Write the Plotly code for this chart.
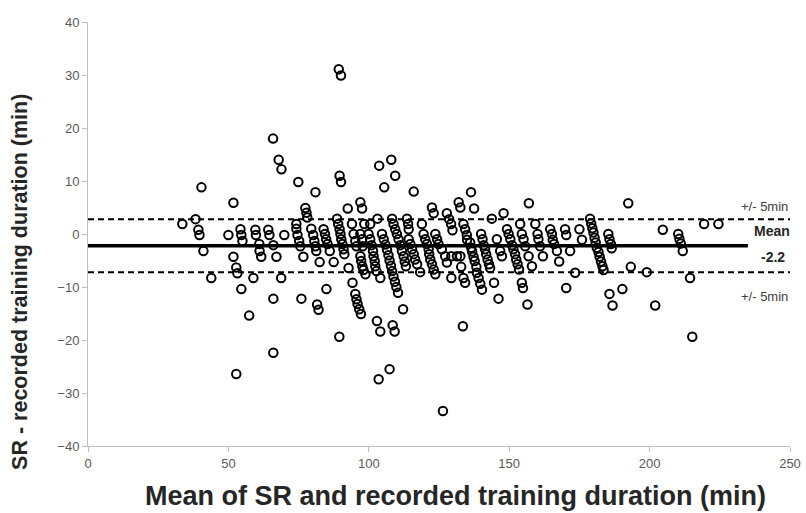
import plotly.graph_objects as go

# Bland-Altman data: mean of SR and recorded duration (x), difference (y)
points = [
    (33.6,1.9),(38.3,2.8),(39.3,0.8),(39.7,-0.2),(40.4,8.8),(41.1,-3.2),(43.9,-8.3),
    (50,-0.2),(51.8,5.9),(51.8,-4.3),(52.8,-6.3),(53.2,-7.4),(52.8,-26.4),(54.6,-10.4),(57.4,-15.4),
    (54.3,0.9),(54.6,-0.2),(55,-1.3),(58.9,-8.3),
    (59.6,0.8),(59.8,-0.2),(61,-1.9),(61.1,-3.2),(61.7,-4.3),
    (64.2,0.8),(64.6,-0.2),(66,-2.1),(67.1,-4.3),(69.9,-0.2),(68.8,-8.3),(66,-12.2),(66,-22.4),
    (65.9,18),(67.9,14),(68.9,12.2),
    (74.9,9.8),(76,-12.2),(81,7.9),(77.4,4.9),(77.8,4.0),(78.1,3.1),(74.2,1.9),(74.2,1.0),(74.6,-0.2),
    (75.2,-1.3),(75.6,-2.3),(76.7,-4.3),
    (79.5,1.0),(80.2,-0.2),(80.6,-1.3),(81,-2.3),(81.3,-3.2),(81.6,-13.3),(82.1,-14.3),(82.5,-5.3),
    (83.9,0.9),(84.4,0),(84.8,-1),(85.3,-1.9),(86.1,-3.2),(87.5,-5.3),(84.9,-10.4),
    (88.7,2.9),(89.1,1.9),(89.6,0.9),(89.9,0),(90.2,-1),(90.6,-1.9),(91,-2.9),(91.3,-3.8),(92.8,-6.4),
    (89.6,11),(90.1,9.8),(92.5,4.8),(89.3,31.1),(90.1,29.9),(89.5,-19.4),
    (94,1.9),(94.6,0),(95.2,-1.3),(95.6,-2.3),(94.2,-9.2),(95.2,-11.3),(95.6,-12.3),(96,-13.2),
    (96.6,-14.2),(97.2,-15.1),
    (97,6),(97.6,4.8),(97,0),(97.6,-1),(97.8,-2.3),(97,-4.2),(97.3,-5.1),(97.7,-6.1),(98.1,-6.8),(98.8,-7.6),
    (98.4,1.9),(100.5,1.9),(99.9,0),(100.5,-1),(101,-2.1),(101.5,-3.2),(101.7,-4.2),(102.1,-5.1),
    (102.3,-6.1),(102.7,-7.0),
    (103.1,2.9),(102.9,-16.4),(104.1,-18.4),(103.5,-27.4),(103.7,12.9),(108,14),(105.5,8.8),(109.4,11),(116,8),
    (104.7,0),(105.3,-1),(105.9,-2),(106.5,-3),(107,-4),(107.4,-5),(107.9,-6),(108.3,-7),(108.8,-8),
    (109.3,-9),(109.8,-10),(110.4,-11.1),(104.1,-8.3),
    (108.3,2.9),(108.8,1.9),(109.4,0.9),(110,0),(110.6,-1),(111.2,-2.1),(111.8,-3.2),(112.4,-4.2),
    (112.8,-5.2),(113.2,-6.1),
    (112.2,-14.2),(108.5,-17.2),(109.2,-18.4),(107.4,-25.5),
    (113.6,2.9),(114,1.9),(114.2,0.9),(114.2,-1),(114.8,-1.9),(115.4,-2.9),(116,-3.8),(116.5,-4.8),
    (117.2,-5.7),(118.3,-7.2),
    (118.9,1.9),(119.5,0),(120.1,-1),(120.7,-1.9),(121.3,-2.9),(121.5,-3.8),(121.9,-4.8),(122.5,-5.7),
    (123.1,-6.7),(123.7,-7.6),
    (122.5,5),(123.1,3.9),(123.7,0),(124.3,-1),(124.8,-1.9),(126,-2.9),(127.2,-4.2),(127.8,-5.4),(126.4,-33.4),
    (127.8,3.9),(128.6,2.8),(129.3,1.9),(129.8,0.7),(129.4,-4.2),(129.4,-8.3),(131.4,-4.2),(132.6,-4.2),
    (132.9,-6.2),(132,6),(132.6,5),(133.5,-17.4),
    (133.7,1.9),(134.3,0.9),(134.9,-0.2),(135,-1.1),(133.7,-8.3),(134.3,-9.2),(136.4,7.9),(137.5,4.8),
    (136.1,-1.6),(136.5,-2.6),(136.8,-3.3),(137.3,-4.3),(137.7,-5.1),(138.3,-6.2),(138.5,-7.3),(139.1,-8.3),
    (139.7,-9.4),(140.3,-10.5),
    (140,0),(140.5,-1),(140.9,-2.1),(141.4,-2.9),(141.8,-3.8),(142.3,-4.8),(142.8,-5.7),(143.2,-6.4),
    (143.8,2.9),(144.6,-9.2),(145.6,-1),(146.8,-3.2),(147.4,-4.2),(146.2,-12.2),(148,3.9),
    (149.2,0.9),(149.8,0),(150.4,-1),(151,-2.1),(151.5,-2.9),(152.1,-3.8),(152.5,-4.8),(153,-5.7),(153.5,-6.7),
    (153.9,1.9),(154.5,0),(155.1,-1),(155.7,-2.3),(154.5,-9.2),(154.9,-10.2),(156.5,-13.3),(157,5.8),
    (156.9,-4.2),(158.1,-6.1),
    (159.3,1.9),(160.1,0),(160.4,-1),(161,-2.3),(162,-4.2),
    (164.6,0.9),(165.2,0),(165.5,-1.1),(166,-1.9),(167,-3.2),(167.8,-5.2),
    (169.9,0.9),(170.3,-0.2),(171.7,-3.2),(170.3,-10.2),(173.5,-7.3),(175,0.9),(175.9,-1.1),
    (178.8,2.9),(179.2,2.0),(179.6,1.1),(180,0.3),(180.4,-0.7),(180.8,-1.6),(181.2,-2.6),(181.8,-3.4),
    (182.2,-4.3),(182.7,-5.2),(183.2,-6.1),(183.6,-6.8),
    (185.3,0),(185.7,-1),(186.2,-1.9),(186.5,-2.7),(185.7,-11.3),(186.8,-13.5),(190.3,-10.4),(192.4,5.8),
    (193.3,-6.2),(199,-7.2),(202,-13.5),(204.7,0.8),(210.2,0),(210.6,-0.9),(211.1,-1.8),(211.8,-3.2),
    (214.4,-8.3),(215.2,-19.4),(219.4,1.9),(224.5,1.9),
]
mean_vals = [p[0] for p in points]
diff_vals = [p[1] for p in points]

bias = -2.2
upper_limit = 2.8
lower_limit = -7.2
x_ticks = [0, 50, 100, 150, 200, 250]
y_ticks = [-40, -30, -20, -10, 0, 10, 20, 30, 40]
x_title = "Mean of SR and recorded training duration (min)"
y_title = "SR - recorded training duration (min)"

fig = go.Figure()
fig.add_trace(go.Scatter(x=[0, 250], y=[upper_limit, upper_limit], mode="lines",
                         line=dict(color="black", width=2, dash="6px,4px"), hoverinfo="skip"))
fig.add_trace(go.Scatter(x=[0, 250], y=[lower_limit, lower_limit], mode="lines",
                         line=dict(color="black", width=2, dash="6px,4px"), hoverinfo="skip"))
fig.add_trace(go.Scatter(x=[0, 235], y=[bias, bias], mode="lines",
                         line=dict(color="black", width=3.5), hoverinfo="skip"))
fig.add_trace(go.Scatter(x=mean_vals, y=diff_vals, mode="markers",
                         marker=dict(symbol="circle-open", size=8.5, color="black",
                                     line=dict(width=2, color="black"))))

fig.add_annotation(x=241, y=5.2, text="+/- 5min", showarrow=False,
                   font=dict(size=13, color="#404040", family="Liberation Sans"))
fig.add_annotation(x=241, y=-11.8, text="+/- 5min", showarrow=False,
                   font=dict(size=13, color="#404040", family="Liberation Sans"))
fig.add_annotation(x=243.5, y=0.6, text="<b>Mean</b>", showarrow=False,
                   font=dict(size=14, color="#262626", family="Liberation Sans"))
fig.add_annotation(x=244, y=-4.3, text="<b>-2.2</b>", showarrow=False,
                   font=dict(size=14, color="#262626", family="Liberation Sans"))

# axis titles placed as annotations (offset like the original)
fig.add_annotation(xref="paper", yref="paper", x=0.524, y=-0.117, text="<b>" + x_title + "</b>",
                   showarrow=False, xanchor="center", yanchor="middle",
                   font=dict(size=27, color="#262626", family="Liberation Sans"))
fig.add_annotation(xref="paper", yref="paper", x=-0.0969, y=0.387, text="<b>" + y_title + "</b>",
                   showarrow=False, xanchor="center", yanchor="middle", textangle=-90,
                   font=dict(size=21.5, color="#262626", family="Liberation Sans"))

axis_common = dict(showgrid=False, zeroline=False, showline=True, linecolor="#bfbfbf", linewidth=1,
                   ticks="outside", ticklen=5, tickcolor="#bfbfbf", automargin=False,
                   ticklabeloverflow="allow",
                   tickfont=dict(size=13, color="#595959", family="Liberation Sans"))
fig.update_xaxes(range=[0, 250], tickvals=x_ticks, **axis_common)
fig.update_yaxes(range=[-40, 40], tickvals=y_ticks, **axis_common)
fig.update_layout(width=806, height=513, showlegend=False, plot_bgcolor="white", paper_bgcolor="white",
                  margin=dict(l=88, r=16, t=22, b=67))
# remove the default 8px page margin so the figure fills the window exactly
fig.write_html("out.html", config={"displayModeBar": False},
               post_script="document.body.style.margin='0';")
